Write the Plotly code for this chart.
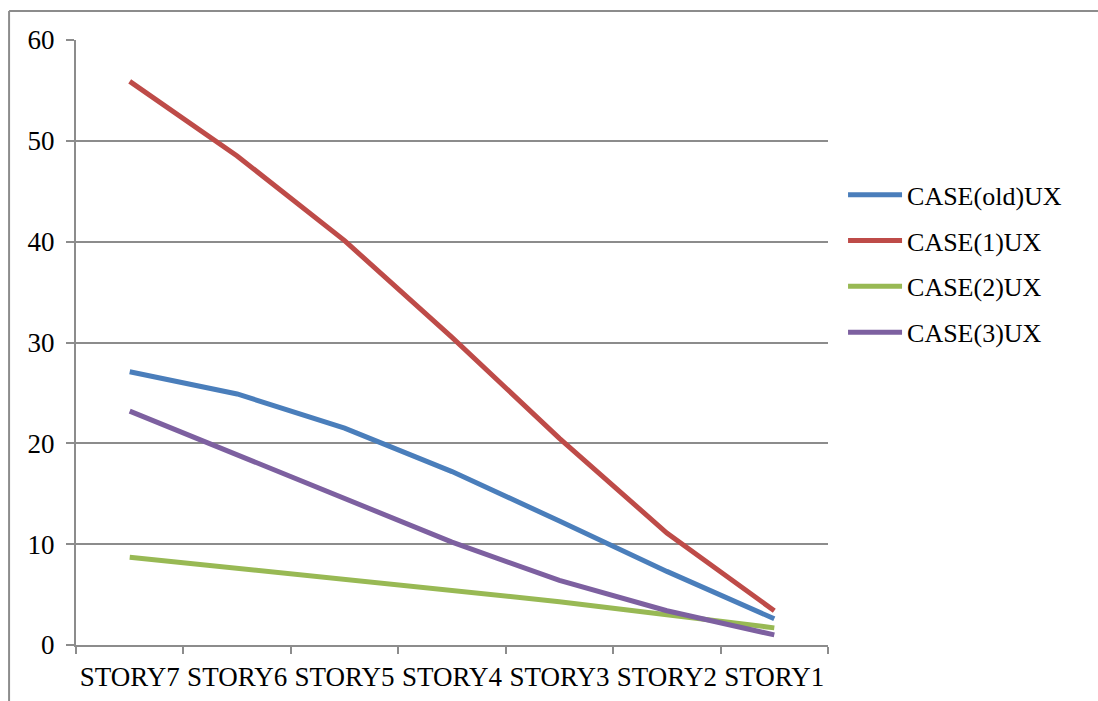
import plotly.graph_objects as go

# Storey displacement UX for each case, top storey first
stories = ["STORY7", "STORY6", "STORY5", "STORY4", "STORY3", "STORY2", "STORY1"]
case_old = [27.1, 24.9, 21.5, 17.2, 12.3, 7.3, 2.6]
case_1 = [55.9, 48.5, 40.1, 30.5, 20.5, 11.1, 3.4]
case_2 = [8.7, 7.6, 6.6, 5.5, 4.3, 3.0, 1.7]
case_3 = [23.2, 18.85, 14.5, 10.2, 6.4, 3.4, 1.0]

series = [
    ("CASE(old)UX", case_old, "#4A7EBB"),
    ("CASE(1)UX", case_1, "#BE4B48"),
    ("CASE(2)UX", case_2, "#98B954"),
    ("CASE(3)UX", case_3, "#7D60A0"),
]

FONT = "Liberation Serif"
GRID = "#8C8C8C"
tick_font = dict(family=FONT, size=27, color="black")

fig = go.Figure()
for i, (name, vals, color) in enumerate(series):
    fig.add_trace(go.Scatter(
        x=stories, y=vals, name=name, mode="lines",
        line=dict(color=color, width=5),
        legendgroup=f"g{i}",
    ))

fig.update_layout(
    width=1098, height=701,
    margin=dict(l=76, r=270, t=40, b=56, autoexpand=False),
    paper_bgcolor="white", plot_bgcolor="white",
    font=dict(family=FONT, size=26, color="black"),
    showlegend=True,
    legend=dict(
        x=1.02, xanchor="left", y=0.63, yanchor="middle",
        font=dict(family=FONT, size=26, color="black"),
        itemwidth=54,
        tracegroupgap=9, bgcolor="rgba(0,0,0,0)",
    ),
    xaxis=dict(
        type="category", range=[-0.5, 6.5], automargin=False,
        showgrid=False, showline=True, linecolor=GRID, linewidth=2,
        ticks="outside", tickson="boundaries", ticklen=7, tickwidth=2,
        tickcolor=GRID, zeroline=False, tickfont=tick_font,
        tickangle=0, ticklabelstandoff=7,
    ),
    yaxis=dict(
        range=[0, 60], dtick=10, tick0=0, automargin=False,
        showgrid=True, gridcolor=GRID, gridwidth=1.5,
        showline=True, linecolor=GRID, linewidth=2,
        ticks="outside", ticklen=8, tickwidth=2, tickcolor=GRID,
        ticklabelstandoff=6, zeroline=False, tickfont=tick_font,
    ),
    shapes=[
        # outer chart frame: top and left edges
        dict(type="line", xref="paper", yref="paper",
             x0=-0.089, x1=1.359, y0=1.048, y1=1.048,
             line=dict(color=GRID, width=2), layer="below"),
        dict(type="line", xref="paper", yref="paper",
             x0=-0.089, x1=-0.089, y0=-0.093, y1=1.048,
             line=dict(color=GRID, width=2), layer="below"),
    ],
)

fig.write_html("out.html")
